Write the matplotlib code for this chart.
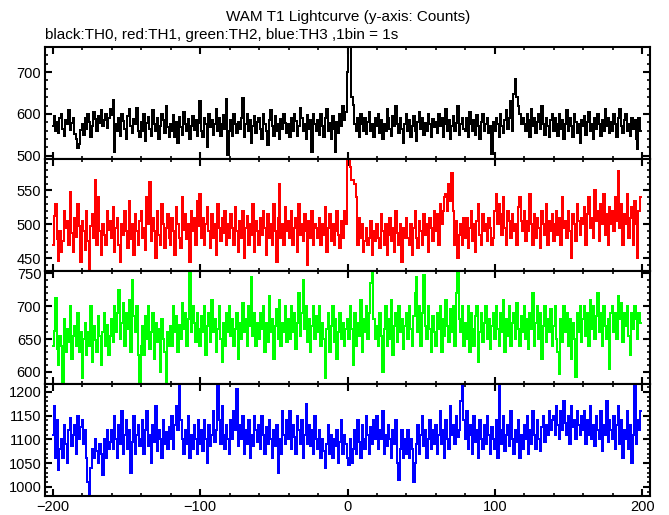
import numpy as np
import matplotlib
matplotlib.use("Agg")
import matplotlib.pyplot as plt
from matplotlib.ticker import MultipleLocator

# 1 bin = 1 s, t = -200 ... 199
th0 = [
    570, 595, 560, 580, 555, 590, 600, 565, 548, 585, 575, 610, 562, 578, 590, 552, 540, 518, 528, 562,
    575, 550, 590, 565, 600, 580, 545, 572, 605, 588, 560, 595, 578, 610, 570, 585, 600, 566, 590, 612,
    598, 632, 508, 575, 560, 590, 548, 600, 582, 565, 540, 595, 612, 570, 555, 588, 575, 615, 560, 545,
    580, 560, 600, 535, 578, 592, 565, 548, 610, 575, 560, 590, 540, 572, 600, 585, 555, 620, 568, 545,
    575, 560, 598, 545, 580, 530, 592, 568, 550, 605, 575, 560, 588, 540, 570, 595, 562, 585, 548, 578,
    630, 560, 545, 590, 575, 520, 600, 568, 585, 550, 575, 612, 560, 590, 548, 575, 598, 565, 635, 502,
    560, 585, 548, 600, 575, 555, 580, 565, 590, 638, 545, 575, 600, 560, 585, 530, 570, 595, 555, 580,
    590, 565, 540, 600, 575, 560, 525, 585, 610, 570, 548, 595, 560, 575, 540, 588, 565, 600, 578, 555,
    575, 545, 590, 560, 600, 582, 548, 570, 615, 590, 560, 575, 540, 598, 565, 585, 508, 600, 575, 560,
    585, 550, 600, 570, 545, 590, 612, 560, 578, 540, 595, 565, 510, 580, 555, 600, 570, 620, 585, 605,
    700, 770, 765, 640, 622, 575, 560, 590, 545, 600, 575, 560, 590, 552, 580, 605, 560, 575, 545, 590,
    570, 600, 555, 585, 540, 575, 560, 612, 590, 565, 548, 595, 570, 620, 575, 555, 590, 565, 530, 575,
    600, 560, 585, 545, 570, 595, 560, 535, 580, 605, 565, 590, 550, 578, 560, 600, 575, 545, 588, 568,
    580, 555, 600, 570, 590, 545, 575, 612, 560, 585, 540, 570, 595, 560, 578, 620, 550, 575, 590, 565,
    560, 590, 545, 605, 575, 560, 585, 550, 598, 570, 540, 580, 600, 560, 575, 590, 555, 570, 505, 580,
    560, 590, 575, 545, 600, 570, 555, 585, 610, 565, 590, 630, 560, 648, 683, 640, 620, 600, 575, 590,
    575, 560, 600, 585, 545, 612, 570, 590, 555, 580, 600, 565, 620, 575, 550, 590, 570, 545, 585, 600,
    560, 590, 575, 548, 600, 565, 585, 540, 575, 610, 560, 590, 570, 545, 600, 580, 555, 575, 530, 585,
    570, 595, 550, 580, 605, 560, 575, 540, 590, 565, 600, 575, 548, 585, 560, 612, 570, 590, 555, 580,
    560, 600, 575, 545, 590, 612, 570, 555, 585, 600, 560, 575, 548, 590, 565, 585, 540, 515, 590, 560,
]

th1 = [
    470, 512, 530, 478, 446, 490, 460, 475, 520, 495, 505, 470, 548, 488, 460, 510, 482, 530, 497, 445,
    505, 490, 462, 520, 475, 432, 498, 515, 480, 565, 470, 540, 490, 455, 500, 485, 470, 520, 492, 505,
    480, 525, 460, 495, 510, 470, 445, 500, 485, 520, 490, 465, 535, 478, 500, 455, 515, 490, 470, 505,
    520, 480, 495, 462, 540, 500, 563, 475, 510, 490, 450, 520, 485, 470, 530, 500, 465, 495, 515, 480,
    470, 510, 490, 455, 525, 500, 480, 465, 540, 492, 515, 478, 500, 445, 520, 490, 510, 470, 535, 498,
    545, 480, 510, 470, 500, 525, 490, 465, 515, 480, 500, 455, 530, 495, 475, 510, 488, 520, 470, 500,
    480, 515, 495, 470, 525, 490, 460, 505, 480, 520, 450, 495, 512, 470, 500, 485, 530, 460, 505, 490,
    470, 510, 485, 520, 495, 455, 515, 480, 500, 470, 530, 490, 445, 510, 560, 480, 500, 470, 525, 490,
    505, 480, 520, 470, 495, 510, 460, 530, 485, 500, 475, 515, 490, 440, 505, 480, 520, 470, 500, 495,
    480, 510, 470, 500, 485, 525, 460, 495, 515, 475, 500, 470, 490, 520, 485, 465, 505, 480, 520, 500,
    598, 598, 585, 565, 565, 560, 540, 470, 510, 480, 500, 460, 475, 495, 470, 480, 505, 455, 490, 475,
    500, 480, 465, 515, 490, 470, 500, 455, 485, 510, 475, 495, 460, 520, 488, 470, 500, 445, 495, 480,
    510, 480, 470, 500, 455, 495, 520, 480, 465, 505, 490, 470, 515, 485, 500, 460, 510, 495, 475, 520,
    490, 515, 470, 530, 500, 520, 540, 545, 520, 560, 535, 575, 520, 470, 505, 450, 485, 500, 470, 510,
    480, 510, 465, 495, 520, 475, 500, 460, 505, 530, 485, 470, 515, 490, 500, 475, 510, 495, 470, 480,
    520, 545, 500, 530, 515, 485, 540, 495, 470, 520, 505, 480, 515, 490, 500, 470, 525, 540, 505, 490,
    520, 475, 505, 490, 545, 500, 470, 515, 480, 510, 495, 465, 520, 500, 485, 530, 470, 505, 490, 515,
    475, 500, 520, 485, 510, 470, 540, 495, 505, 480, 520, 490, 450, 515, 500, 475, 530, 505, 485, 510,
    500, 525, 470, 515, 540, 495, 510, 480, 550, 505, 520, 475, 530, 500, 545, 485, 515, 470, 525, 500,
    520, 490, 540, 505, 578, 495, 530, 470, 515, 500, 545, 480, 510, 525, 470, 535, 500, 450, 520, 540,
]

th2 = [
    640, 662, 712, 635, 610, 655, 640, 585, 680, 630, 665, 645, 700, 620, 655, 670, 640, 690, 630, 660,
    590, 650, 675, 625, 660, 640, 700, 615, 670, 648, 630, 685, 655, 610, 660, 690, 640, 672, 625, 655,
    680, 645, 700, 660, 690, 725, 650, 675, 705, 640, 690, 665, 710, 630, 740, 685, 660, 700, 625, 580,
    640, 670, 625, 685, 650, 700, 635, 660, 690, 620, 675, 645, 665, 600, 680, 650, 630, 585, 660, 640,
    670, 640, 700, 660, 685, 630, 672, 650, 705, 665, 690, 640, 680, 752, 660, 700, 675, 645, 690, 665,
    640, 685, 660, 700, 625, 670, 690, 645, 710, 660, 680, 630, 665, 700, 650, 615, 675, 640, 690, 660,
    700, 655, 680, 640, 665, 690, 620, 675, 650, 705, 660, 680, 640, 700, 670, 745, 655, 690, 640, 675,
    650, 690, 665, 700, 630, 675, 645, 715, 660, 680, 620, 670, 695, 650, 710, 640, 675, 660, 700, 645,
    680, 650, 700, 660, 690, 635, 675, 720, 655, 690, 740, 665, 700, 645, 680, 630, 670, 700, 650, 685,
    660, 700, 640, 675, 650, 590, 665, 690, 630, 670, 700, 645, 680, 620, 660, 690, 650, 675, 640, 665,
    680, 650, 700, 665, 610, 690, 640, 675, 655, 710, 630, 680, 660, 700, 650, 690, 735, 752, 680, 650,
    670, 640, 690, 655, 600, 665, 700, 640, 680, 650, 710, 625, 670, 690, 645, 700, 660, 680, 635, 670,
    690, 650, 700, 665, 640, 685, 720, 745, 660, 700, 640, 690, 748, 670, 650, 700, 665, 630, 685, 660,
    640, 690, 665, 700, 630, 680, 655, 710, 670, 645, 695, 660, 700, 640, 720, 750, 680, 660, 700, 640,
    675, 650, 700, 630, 690, 665, 640, 685, 700, 615, 660, 690, 645, 675, 700, 650, 680, 635, 670, 690,
    650, 700, 665, 640, 690, 660, 710, 630, 680, 655, 700, 640, 675, 690, 650, 705, 665, 640, 685, 660,
    700, 650, 680, 635, 690, 665, 720, 640, 675, 700, 650, 690, 620, 670, 700, 645, 680, 660, 695, 640,
    670, 700, 650, 630, 597, 680, 645, 700, 660, 690, 640, 680, 620, 675, 650, 592, 690, 660, 700, 645,
    680, 700, 655, 690, 640, 710, 665, 700, 650, 685, 720, 660, 690, 640, 700, 670, 650, 680, 605, 690,
    700, 660, 690, 650, 715, 680, 705, 645, 690, 670, 700, 655, 625, 690, 665, 700, 680, 650, 690, 675,
]

th3 = [
    1110, 1170, 1060, 1140, 1035, 1080, 1100, 1060, 1130, 1090, 1050, 1120, 1145, 1085, 1110, 1130, 1070, 1150, 1100, 1125,
    1140, 1090, 1120, 1060, 1010, 985, 1040, 1080, 1060, 1100, 1075, 1050, 1090, 1070, 1025, 1100, 1060, 1120, 1080, 1095,
    1120, 1080, 1150, 1100, 1060, 1130, 1090, 1160, 1070, 1110, 1140, 1080, 1120, 1030, 1095, 1150, 1070, 1110, 1130, 1085,
    1100, 1140, 1070, 1120, 1160, 1085, 1110, 1050, 1130, 1095, 1170, 1075, 1120, 1100, 1060, 1140, 1090, 1115, 1080, 1125,
    1100, 1150, 1080, 1130, 1170, 1120, 1215, 1140, 1100, 1070, 1120, 1090, 1150, 1060, 1110, 1080, 1130, 1100, 1070, 1140,
    1090, 1120, 1075, 1140, 1100, 1050, 1130, 1085, 1110, 1160, 1095, 1120, 1215, 1140, 1090, 1170, 1110, 1080, 1130, 1100,
    1070, 1140, 1100, 1160, 1120, 1205, 1085, 1130, 1100, 1150, 1070, 1120, 1090, 1140, 1060, 1110, 1085, 1150, 1120, 1095,
    1130, 1080, 1150, 1110, 1070, 1125, 1090, 1140, 1100, 1060, 1120, 1085, 1130, 1030, 1100, 1070, 1160, 1110, 1090, 1140,
    1100, 1160, 1080, 1130, 1105, 1070, 1150, 1120, 1090, 1140, 1060, 1110, 1175, 1090, 1130, 1085, 1120, 1070, 1150, 1100,
    1080, 1120, 1060, 1100, 1075, 1040, 1090, 1130, 1070, 1110, 1060, 1100, 1085, 1120, 1050, 1095, 1140, 1070, 1110, 1090,
    1060, 1045, 1100, 1050, 1080, 1120, 1070, 1140, 1095, 1060, 1130, 1100, 1080, 1150, 1110, 1070, 1125, 1090, 1140, 1100,
    1150, 1080, 1120, 1100, 1160, 1070, 1110, 1085, 1130, 1100, 1060, 1120, 1090, 1140, 1050, 1015, 1080, 1120, 1060, 1100,
    1070, 1120, 1060, 1100, 1080, 1010, 1050, 1090, 1130, 1070, 1110, 1150, 1085, 1120, 1060, 1100, 1140, 1080, 1120, 1090,
    1130, 1070, 1110, 1160, 1090, 1120, 1060, 1140, 1100, 1080, 1170, 1110, 1130, 1090, 1150, 1105, 1120, 1180, 1215, 1140,
    1100, 1160, 1080, 1130, 1110, 1070, 1150, 1095, 1120, 1060, 1140, 1100, 1080, 1130, 1090, 1150, 1110, 1070, 1125, 1100,
    1080, 1140, 1060, 1215, 1120, 1090, 1150, 1075, 1110, 1130, 1085, 1160, 1100, 1070, 1120, 1095, 1140, 1060, 1110, 1080,
    1130, 1100, 1150, 1070, 1120, 1090, 1160, 1110, 1080, 1140, 1100, 1075, 1125, 1150, 1095, 1130, 1110, 1160, 1120, 1140,
    1150, 1110, 1170, 1130, 1100, 1160, 1120, 1180, 1135, 1110, 1150, 1090, 1170, 1125, 1140, 1100, 1160, 1130, 1110, 1150,
    1120, 1160, 1090, 1140, 1110, 1170, 1100, 1130, 1085, 1150, 1120, 1100, 1160, 1075, 1130, 1110, 1180, 1095, 1140, 1120,
    1100, 1150, 1080, 1130, 1170, 1090, 1140, 1060, 1120, 1100, 1160, 1080, 1130, 1050, 1110, 1215, 1090, 1140, 1120, 1160,
]

t = np.arange(-200, 200)

series = [th0, th1, th2, th3]
colors = ["black", "red", "#00ff00", "blue"]
ylims = [(492, 760), (431, 596), (582, 753), (981, 1217)]
majors = [100, 50, 50, 50]
minors = [20, 10, 10, 10]

plt.rcParams["font.family"] = ["Liberation Sans", "DejaVu Sans"]

fig, axes = plt.subplots(4, 1, figsize=(6.69, 5.15), dpi=100, sharex=True)
fig.subplots_adjust(left=0.068, right=0.972, top=0.909, bottom=0.037, hspace=0)

for ax, y, c, lim, mj, mn in zip(axes, series, colors, ylims, majors, minors):
    ax.step(t, y, where="mid", color=c, lw=1.1, antialiased=False)
    ax.set_xlim(-205, 205.5)
    ax.set_ylim(*lim)
    ax.xaxis.set_major_locator(MultipleLocator(100))
    ax.xaxis.set_minor_locator(MultipleLocator(20))
    ax.yaxis.set_major_locator(MultipleLocator(mj))
    ax.yaxis.set_minor_locator(MultipleLocator(mn))
    ax.tick_params(which="both", direction="in", top=True, right=True,
                   labelsize=10.5, width=1.5, pad=3)
    ax.tick_params(which="major", length=5)
    ax.tick_params(which="minor", length=2.5, width=1.2)
    for s in ax.spines.values():
        s.set_linewidth(1.5)

fig.text(0.52, 0.967, "WAM T1 Lightcurve (y-axis: Counts)", ha="center", va="center", fontsize=11)
fig.text(0.068, 0.932, "black:TH0, red:TH1, green:TH2, blue:TH3 ,1bin = 1s", ha="left", va="center", fontsize=11)

fig.savefig("out.png", dpi=100)
